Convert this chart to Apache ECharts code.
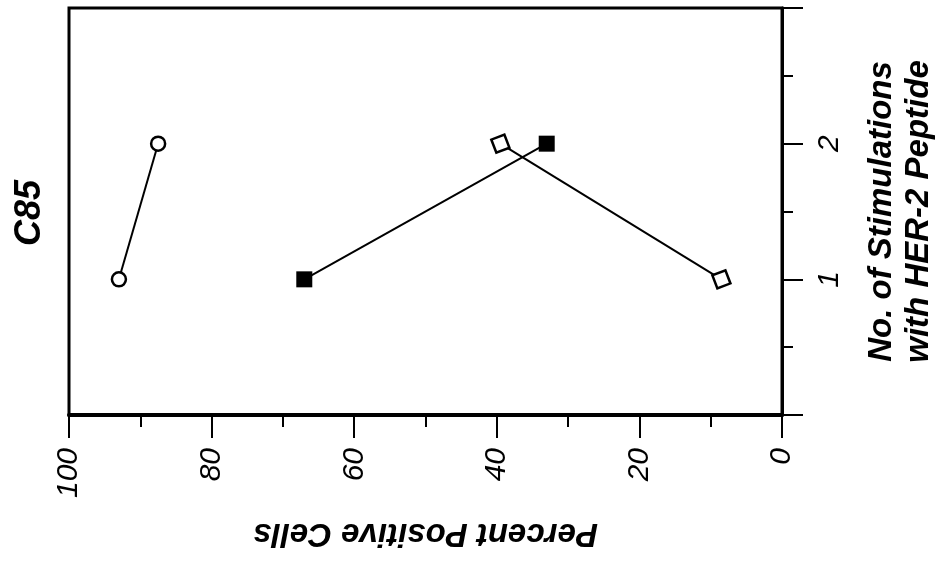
<!DOCTYPE html>
<html>
<head>
<meta charset="utf-8">
<script src="https://cdn.jsdelivr.net/npm/echarts@6/dist/echarts.min.js"></script>
<style>
html,body{margin:0;padding:0;background:#fff;}
#chart{width:945px;height:562px;}
</style>
</head>
<body>
<div id="chart"></div>
<script>
// ---- data ----
const stimulations = [1, 2];
const circlePct = [93, 87.5];      // open circles
const filledPct = [67, 33];        // filled squares
const diamondPct = [8.5, 39.5];    // open tilted squares
const xTicks = [0, 20, 40, 60, 80, 100];
const yTickLabels = ['1', '2'];
const titleText = 'C85';
const xName = 'Percent Positive Cells';
const yName = 'No. of Stimulations\nwith HER-2 Peptide';

const FONT = '"Liberation Sans Narrow", "Liberation Sans", Arial, sans-serif';

function pairs(pcts) { return stimulations.map((s, i) => [pcts[i], s]); }

const chart = echarts.init(document.getElementById('chart'), null, {renderer: 'canvas'});
const option = {
  backgroundColor: '#fff',
  animation: false,
  grid: {left: 69, right: 163, top: 8, bottom: 147, outerBoundsMode: 'none', containLabel: false,
         show: true, borderColor: '#000', borderWidth: 3, backgroundColor: 'transparent'},
  xAxis: {
    type: 'value', min: 0, max: 100, interval: 20, inverse: true,
    axisLine: {show: true, lineStyle: {color: '#000', width: 4}},
    axisTick: {show: true, length: 23, lineStyle: {color: '#000', width: 2}},
    minorTick: {show: true, splitNumber: 2, length: 12, lineStyle: {color: '#000', width: 2}},
    splitLine: {show: false},
    axisLabel: {
      rotate: 90, margin: 33, color: '#000', fontFamily: FONT, fontSize: 30, fontStyle: 'italic',
      formatter: v => xTicks.includes(v) ? String(v) : ''
    },
    name: xName, nameLocation: 'middle', nameRotate: 180, nameGap: 102,
    nameTextStyle: {color: '#000', fontFamily: FONT, fontSize: 33, fontWeight: 'bold', fontStyle: 'italic'}
  },
  yAxis: {
    type: 'value', position: 'right', min: 0, max: 3, interval: 1,
    axisLine: {show: true, lineStyle: {color: '#000', width: 3}},
    axisTick: {show: true, length: 21, lineStyle: {color: '#000', width: 2}},
    minorTick: {show: true, splitNumber: 2, length: 11, lineStyle: {color: '#000', width: 2}},
    splitLine: {show: false},
    axisLabel: {
      rotate: 90, margin: 33, color: '#000', fontFamily: FONT, fontSize: 30, fontStyle: 'italic',
      formatter: v => yTickLabels.includes(String(v)) ? String(v) : ''
    },
    name: yName, nameLocation: 'middle', nameRotate: 90, nameGap: 81,
    nameTextStyle: {color: '#000', fontFamily: FONT, fontSize: 33, fontWeight: 'bold', fontStyle: 'italic', lineHeight: 37}
  },
  graphic: [{
    type: 'text', x: 30, y: 213, rotation: Math.PI / 2,
    style: {text: titleText, font: 'italic bold 36px ' + FONT, fill: '#000', textAlign: 'center', textVerticalAlign: 'middle'}
  }],
  series: [
    {
      type: 'line', data: pairs(circlePct), symbol: 'circle', symbolSize: 14,
      lineStyle: {color: '#000', width: 2},
      itemStyle: {color: '#fff', borderColor: '#000', borderWidth: 2.5}
    },
    {
      type: 'line', data: pairs(filledPct), symbol: 'rect', symbolSize: 16,
      lineStyle: {color: '#000', width: 2},
      itemStyle: {color: '#000', borderColor: '#000', borderWidth: 0}
    },
    {
      type: 'line', data: pairs(diamondPct), symbol: 'rect', symbolSize: 14, symbolRotate: 21,
      lineStyle: {color: '#000', width: 2},
      itemStyle: {color: '#fff', borderColor: '#000', borderWidth: 2.5}
    }
  ]
};
chart.setOption(option);
</script>
</body>
</html>
